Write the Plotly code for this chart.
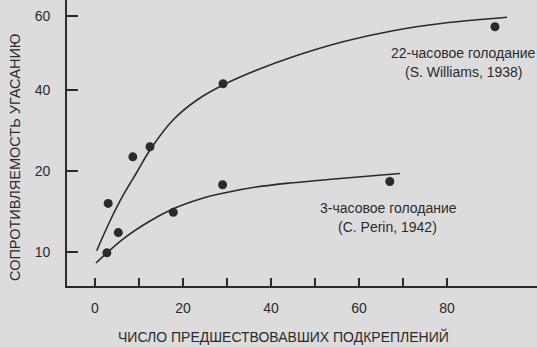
import numpy as np
import plotly.graph_objects as go

# ---- data ----
# y axis of the original is printed with uneven spacing: labels 10, 20, 40, 60
y_tick_labels = [10, 20, 40, 60]
y_tick_pos = [34, 115, 196, 270]          # relative axis positions of those labels

x_ticks = [0, 10, 20, 30, 40, 50, 60, 70, 80]
x_tick_text = ["0", "", "20", "", "40", "", "60", "", "80"]

# 22-hour deprivation (S. Williams, 1938)
w_x = [3.0, 8.6, 12.5, 29.1, 90.9]
w_y = [16.0, 23.5, 26.0, 41.7, 57.1]
w_curve_x = [0.39, 3.41, 6.43, 9.55, 12.5, 17.73, 23.18, 29.09, 36.82, 45.0, 56.36, 67.73, 79.09, 93.64]
w_curve_y = [10.16, 13.83, 17.04, 19.88, 25.19, 32.59, 37.53, 41.35, 45.41, 49.0, 53.05, 56.03, 58.03, 59.65]

# 3-hour deprivation (C. Perin, 1942)
p_x = [2.7, 5.3, 17.8, 29.0, 67.0]
p_y = [9.9, 12.4, 14.9, 18.3, 18.7]
p_curve_x = [0.23, 6.36, 12.5, 17.7, 23.9, 29.3, 36.6, 44.3, 55.7, 69.3]
p_curve_y = [8.64, 11.6, 13.83, 15.31, 16.54, 17.28, 18.02, 18.52, 19.07, 19.69]


def ypos(v):
    """Map printed y value to axis position (piecewise linear, extrapolated)."""
    v = np.asarray(v, dtype=float)
    xs = np.array(y_tick_labels, dtype=float)
    ps = np.array(y_tick_pos, dtype=float)
    out = np.interp(v, xs, ps)
    lo = v < xs[0]
    out[lo] = ps[0] + (v[lo] - xs[0]) * (ps[1] - ps[0]) / (xs[1] - xs[0])
    hi = v > xs[-1]
    out[hi] = ps[-1] + (v[hi] - xs[-1]) * (ps[-1] - ps[-2]) / (xs[-1] - xs[-2])
    return out


FONT = "Liberation Sans Narrow, Arial Narrow, Liberation Sans, sans-serif"
INK = "#2b2b2b"
BG = "#dcdcdc"

fig = go.Figure()

for cx, cy in [(w_curve_x, w_curve_y), (p_curve_x, p_curve_y)]:
    fig.add_trace(go.Scatter(x=cx, y=ypos(cy), mode="lines",
                             line=dict(color=INK, width=1.6, shape="spline", smoothing=1.0),
                             hoverinfo="skip", showlegend=False))

for px_, py_ in [(w_x, w_y), (p_x, p_y)]:
    fig.add_trace(go.Scatter(x=px_, y=ypos(py_), mode="markers",
                             marker=dict(color=INK, size=9, line=dict(width=0)),
                             showlegend=False))

annots = [
    dict(x=463, y=53, text="22-часовое голодание"),
    dict(x=463, y=72, text="(S. Williams, 1938)"),
    dict(x=388, y=208, text="3-часовое голодание"),
    dict(x=387, y=227, text="(C. Perin, 1942)"),
]
for a in annots:
    fig.add_annotation(x=(a["x"] - 67) / 470, y=(286 - a["y"]) / 286, xref="paper", yref="paper",
                       text=a["text"], showarrow=False, xanchor="center", yanchor="middle",
                       font=dict(family=FONT, size=14, color=INK))

fig.add_annotation(x=(283 - 67) / 470, y=-(336 - 286) / 286, xref="paper", yref="paper",
                   text="ЧИСЛО ПРЕДШЕСТВОВАВШИХ ПОДКРЕПЛЕНИЙ", showarrow=False,
                   xanchor="center", yanchor="middle",
                   font=dict(family=FONT, size=14, color=INK))
fig.add_annotation(x=-(67 - 15) / 470, y=(286 - 157) / 286, xref="paper", yref="paper",
                   text="СОПРОТИВЛЯЕМОСТЬ УГАСАНИЮ", showarrow=False, textangle=-90,
                   xanchor="center", yanchor="middle",
                   font=dict(family=FONT, size=14.5, color=INK))

fig.update_layout(
    width=537, height=347,
    margin=dict(l=67, r=0, t=0, b=61),
    paper_bgcolor=BG, plot_bgcolor=BG,
    font=dict(family=FONT, size=14, color=INK),
    xaxis=dict(range=[-6.36, 100.45], tickvals=x_ticks, ticktext=x_tick_text,
               ticks="inside", ticklen=8, tickwidth=1.5, tickcolor=INK,
               showline=True, linecolor=INK, linewidth=1.8, showgrid=False,
               zeroline=False, ticklabelstandoff=8),
    yaxis=dict(range=[0, 286], tickvals=y_tick_pos, ticktext=[str(v) for v in y_tick_labels],
               ticks="inside", ticklen=11, tickwidth=1.5, tickcolor=INK,
               showline=True, linecolor=INK, linewidth=1.8, showgrid=False,
               zeroline=False, ticklabelstandoff=12),
)

fig.write_html("out.html")
